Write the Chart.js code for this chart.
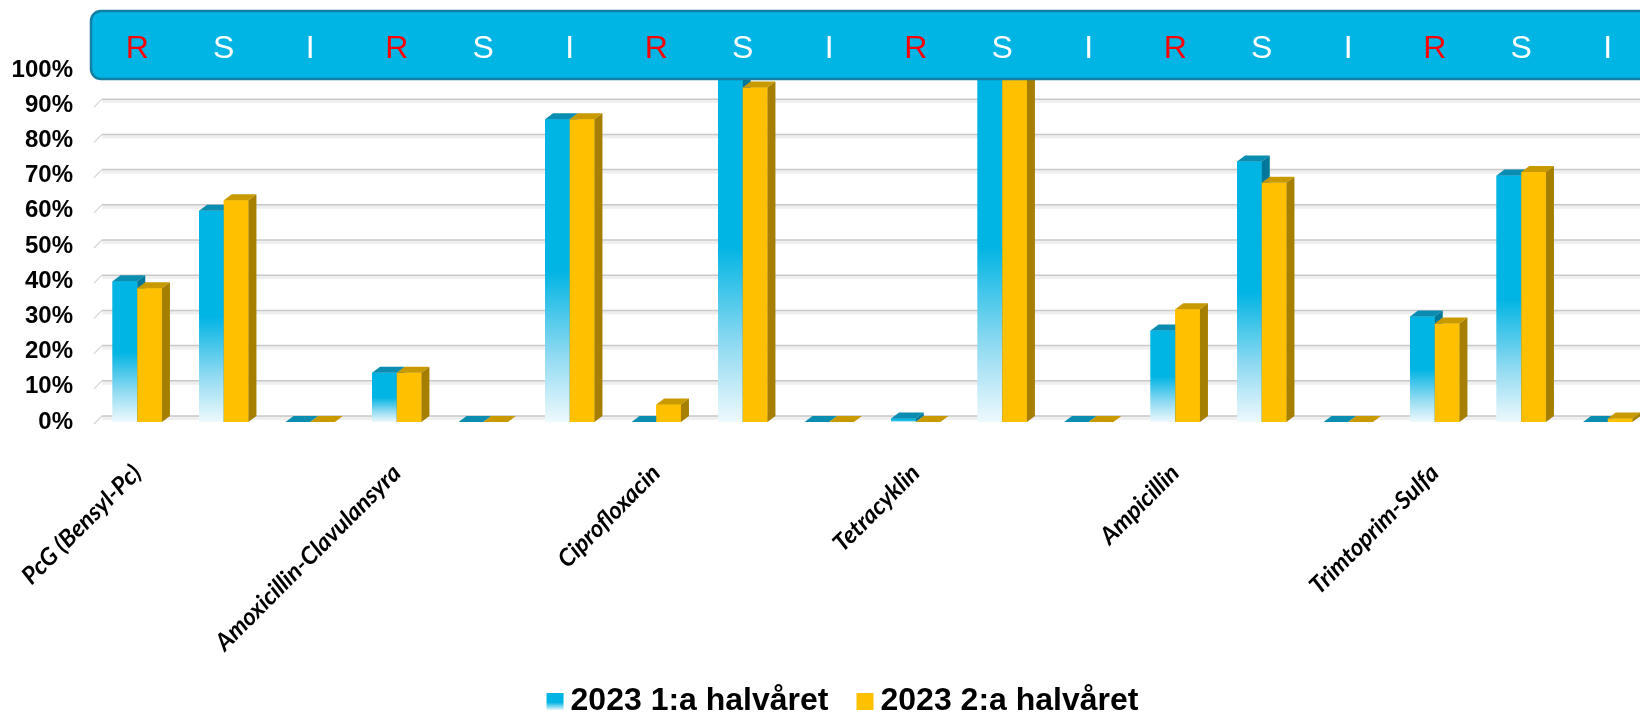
<!DOCTYPE html>
<html>
<head>
<meta charset="utf-8">
<script src="https://cdn.jsdelivr.net/npm/chart.js@4.4.1/dist/chart.umd.min.js"></script>
<style>
  html, body { margin: 0; padding: 0; background: #fff; overflow: hidden; }
  #wrap { position: relative; width: 1660px; height: 715px; }
</style>
</head>
<body>
<div id="wrap"><canvas id="resChart"></canvas></div>
<script>
const antibiotics = ['PcG (Bensyl-Pc)', 'Amoxicillin-Clavulansyra', 'Ciprofloxacin', 'Tetracyklin', 'Ampicillin', 'Trimtoprim-Sulfa'];
const results = ['R', 'S', 'I'];
const seriesNames = ['2023 1:a halvåret', '2023 2:a halvåret'];
// percent per antibiotic, in R, S, I order
const firstHalf  = [40, 60, 0, 14, 0, 86, 0, 100, 0, 1, 100, 0, 26, 74, 0, 30, 70, 0];
const secondHalf = [38, 63, 0, 14, 0, 86, 5, 95, 0, 0, 100, 0, 32, 68, 0, 28, 71, 1];

const labels = antibiotics.flatMap(a => results.map(r => a + ' ' + r));

const sansBold = '"Liberation Sans", Arial, sans-serif';
const depthX = 8, depthY = 6;

const faces = [
  { front: '#00b4e3', top: '#0b8db2', side: '#00789b' },
  { front: '#ffc000', top: '#c99a00', side: '#a67f00' }
];

function blueFill(c) {
  const chart = c.chart;
  if (!chart.chartArea || c.dataIndex === undefined) return faces[0].front;
  const ys = chart.scales.y;
  const top = ys.getPixelForValue(c.raw || 0);
  const base = ys.getPixelForValue(0);
  if (base - top < 1) return faces[0].front;
  const g = chart.ctx.createLinearGradient(0, base, 0, top);
  g.addColorStop(0, '#eef9fd');
  g.addColorStop(0.22, '#8fdaf1');
  g.addColorStop(0.5, faces[0].front);
  g.addColorStop(1, faces[0].front);
  return g;
}

// back wall gridlines, 3D bar faces, banner with R/S/I, legend
const excel3d = {
  id: 'excel3d',
  beforeDatasetsDraw(chart) {
    const ctx = chart.ctx, area = chart.chartArea, ys = chart.scales.y;
    ctx.save();
    ys.ticks.forEach(t => {
      const py = ys.getPixelForValue(t.value) - depthY;
      ctx.fillStyle = '#efefef';
      ctx.fillRect(area.left + depthX, py, area.right - area.left + 20, 4);
      ctx.strokeStyle = '#c9c9c9';
      ctx.lineWidth = 1.5;
      ctx.beginPath();
      ctx.moveTo(area.left + depthX, py);
      ctx.lineTo(area.right + 20, py);
      ctx.stroke();
      ctx.strokeStyle = '#d4d4d4';
      ctx.lineWidth = 1.2;
      ctx.beginPath();
      ctx.moveTo(area.left, py + depthY + 2);
      ctx.lineTo(area.left + depthX, py);
      ctx.stroke();
    });
    ctx.restore();
  },
  afterDatasetsDraw(chart) {
    const ctx = chart.ctx;
    const metas = [chart.getDatasetMeta(0), chart.getDatasetMeta(1)];
    ctx.save();
    for (let i = 0; i < labels.length; i++) {
      metas.forEach((m, k) => {
        const bar = m.data[i];
        const p = bar.getProps(['x', 'y', 'base', 'width'], true);
        const l = p.x - p.width / 2, r = p.x + p.width / 2;
        bar.draw(ctx);
        ctx.fillStyle = faces[k].top;
        ctx.beginPath();
        ctx.moveTo(l, p.y);
        ctx.lineTo(l + depthX, p.y - depthY);
        ctx.lineTo(r + depthX, p.y - depthY);
        ctx.lineTo(r, p.y);
        ctx.closePath();
        ctx.fill();
        ctx.fillStyle = faces[k].side;
        ctx.beginPath();
        ctx.moveTo(r, p.y);
        ctx.lineTo(r + depthX, p.y - depthY);
        ctx.lineTo(r + depthX, p.base - depthY);
        ctx.lineTo(r, p.base);
        ctx.closePath();
        ctx.fill();
      });
    }
    ctx.restore();
  },
  afterDraw(chart) {
    const ctx = chart.ctx, area = chart.chartArea, xs = chart.scales.x;
    ctx.save();
    // banner
    ctx.fillStyle = '#00b4e3';
    ctx.strokeStyle = '#137fa3';
    ctx.lineWidth = 2.5;
    ctx.beginPath();
    ctx.roundRect(area.left - 3, 11, chart.width, 68, 10);
    ctx.fill();
    ctx.stroke();
    ctx.font = '32px ' + sansBold;
    ctx.textAlign = 'center';
    ctx.textBaseline = 'middle';
    labels.forEach((_, i) => {
      const letter = results[i % 3];
      ctx.fillStyle = letter === 'R' ? '#ff0000' : '#ffffff';
      ctx.fillText(letter, xs.getPixelForValue(i), 49);
    });
    // legend
    ctx.font = 'bold 32px ' + sansBold;
    ctx.textAlign = 'left';
    ctx.textBaseline = 'alphabetic';
    const box = 17, gap = 7, spacing = 28;
    const widths = seriesNames.map(s => ctx.measureText(s).width);
    const total = widths.reduce((a, w) => a + box + gap + w, 0) + spacing;
    let x = (area.left + area.right) / 2 - 30 - total / 2;
    seriesNames.forEach((name, k) => {
      if (k === 0) {
        const g = ctx.createLinearGradient(0, 693, 0, 710);
        g.addColorStop(0, faces[0].front);
        g.addColorStop(0.55, faces[0].front);
        g.addColorStop(1, '#e6f7fc');
        ctx.fillStyle = g;
      } else {
        ctx.fillStyle = faces[1].front;
      }
      ctx.fillRect(x, 693, box, box);
      x += box + gap;
      ctx.fillStyle = '#000';
      ctx.fillText(name, x, 710);
      x += widths[k] + spacing;
    });
    ctx.restore();
  }
};

new Chart(document.getElementById('resChart'), {
  type: 'bar',
  data: {
    labels: labels,
    datasets: [
      { label: seriesNames[0], data: firstHalf, backgroundColor: blueFill },
      { label: seriesNames[1], data: secondHalf, backgroundColor: faces[1].front }
    ]
  },
  options: {
    responsive: true,
    maintainAspectRatio: false,
    animation: false,
    devicePixelRatio: 1,
    layout: { padding: { top: 70, right: 9, bottom: 0, left: 0 } },
    datasets: { bar: { categoryPercentage: 0.571, barPercentage: 1 } },
    plugins: { legend: { display: false }, tooltip: { enabled: false } },
    scales: {
      x: {
        grid: { display: false },
        border: { display: false },
        ticks: {
          autoSkip: false,
          maxRotation: 45,
          minRotation: 45,
          padding: 29,
          color: '#000',
          font: { family: 'Lato, "Open Sans", sans-serif', size: 24, weight: 'bold', style: 'italic' },
          callback: (v, i) => (i % 3 === 0 ? antibiotics[i / 3] : '')
        },
        afterFit: axis => { axis.height = 293; axis.paddingLeft = 0; axis.paddingRight = 0; }
      },
      y: {
        min: 0,
        max: 100,
        grid: { display: false, drawTicks: false },
        border: { display: false },
        ticks: {
          stepSize: 10,
          padding: 21,
          color: '#000',
          font: { family: sansBold, size: 24, weight: 'bold' },
          callback: v => v + '%'
        },
        afterFit: axis => { axis.width = 94; }
      }
    }
  },
  plugins: [excel3d]
});
</script>
</body>
</html>
